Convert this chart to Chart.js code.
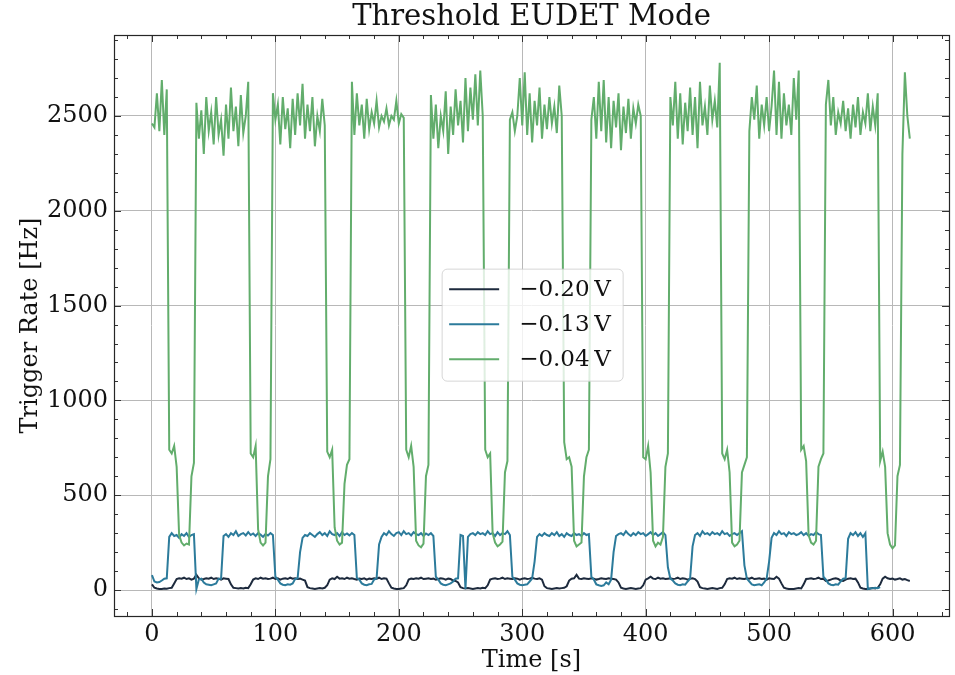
<!DOCTYPE html>
<html><head><meta charset="utf-8">
<script src="https://cdn.jsdelivr.net/npm/chart.js@4.4.1/dist/chart.umd.min.js"></script>
<style>html,body{margin:0;padding:0;background:#fff}canvas{display:block}</style>
</head><body>
<canvas id="c" width="955" height="675"></canvas>
<script>
// Time axis [s], sampled every 2 s
const times = [
0,2,4,6,8,10,12,14,16,18,20,22,24,26,28,30,32,34,36,38,40,42,44,46,48,50,52,54,56,58,
60,62,64,66,68,70,72,74,76,78,80,82,84,86,88,90,92,94,96,98,100,102,104,106,108,110,112,114,116,118,
120,122,124,126,128,130,132,134,136,138,140,142,144,146,148,150,152,154,156,158,160,162,164,166,168,170,172,174,176,178,
180,182,184,186,188,190,192,194,196,198,200,202,204,206,208,210,212,214,216,218,220,222,224,226,228,230,232,234,236,238,
240,242,244,246,248,250,252,254,256,258,260,262,264,266,268,270,272,274,276,278,280,282,284,286,288,290,292,294,296,298,
300,302,304,306,308,310,312,314,316,318,320,322,324,326,328,330,332,334,336,338,340,342,344,346,348,350,352,354,356,358,
360,362,364,366,368,370,372,374,376,378,380,382,384,386,388,390,392,394,396,398,400,402,404,406,408,410,412,414,416,418,
420,422,424,426,428,430,432,434,436,438,440,442,444,446,448,450,452,454,456,458,460,462,464,466,468,470,472,474,476,478,
480,482,484,486,488,490,492,494,496,498,500,502,504,506,508,510,512,514,516,518,520,522,524,526,528,530,532,534,536,538,
540,542,544,546,548,550,552,554,556,558,560,562,564,566,568,570,572,574,576,578,580,582,584,586,588,590,592,594,596,598,
600,602,604,606,608,610,612,614];

// Trigger rate [Hz] at threshold -0.20 V
const rateM020 = [
30,12,8,5,6,8,7,10,12,35,
58,62,60,65,58,62,55,60,80,62,55,58,62,60,65,58,62,60,55,62,60,58,
30,12,10,8,10,8,12,10,30,
55,62,58,65,60,62,58,60,65,58,62,55,60,62,58,65,60,62,58,60,55,50,
15,10,8,6,8,10,8,12,25,
55,62,58,70,60,62,58,65,60,62,58,55,60,58,62,55,60,58,62,60,65,58,62,60,35,
12,8,6,5,8,10,25,
55,60,58,62,60,65,58,60,62,58,60,55,58,62,60,55,60,58,50,48,40,
15,10,8,10,8,6,8,10,8,12,10,25,
55,60,62,58,60,65,58,62,60,58,62,60,55,60,62,58,60,65,60,58,62,55,20,
10,8,6,8,10,8,10,12,20,
50,60,62,80,60,58,62,60,58,62,60,55,58,62,60,58,62,60,58,55,40,
12,8,6,8,10,8,6,8,10,25,
55,62,70,60,58,65,60,62,58,60,62,58,60,65,58,62,60,55,60,62,58,45,
15,10,8,6,8,10,8,6,10,12,30,
58,62,60,65,58,62,60,58,62,60,65,58,60,62,58,60,55,62,60,58,70,60,35,
12,8,6,5,6,8,10,8,30,
58,60,62,58,60,65,58,60,48,50,55,60,62,58,50,48,55,60,62,58,60,40,
12,8,6,5,8,10,8,12,30,
60,70,62,58,60,55,58,62,55,58,52,48];

// Trigger rate [Hz] at threshold -0.13 V
const rateM013 = [
79,45,40,42,50,60,62,
280,300,285,290,275,295,285,300,280,290,295,
5,55,60,40,30,28,25,30,35,60,60,
285,295,280,300,290,310,285,295,300,288,305,290,298,285,300,292,280,295,288,300,290,
70,55,35,28,25,30,28,35,58,62,200,
275,290,285,300,290,280,295,305,290,300,285,310,295,290,300,285,305,290,298,288,300,290,
65,55,35,28,25,30,32,55,62,240,
280,300,290,310,295,285,300,305,290,310,295,300,288,305,295,290,300,285,298,290,300,285,
70,55,35,28,25,30,35,45,60,62,
290,285,5,
280,295,300,290,305,295,300,290,310,295,300,285,305,290,300,295,310,290,
70,55,35,28,25,28,30,45,60,150,
280,295,285,300,290,285,300,290,305,285,295,280,300,290,285,300,290,295,285,300,290,295,
70,55,30,25,22,25,40,30,55,200,
285,295,300,290,310,295,285,300,290,305,295,300,285,295,305,290,300,285,295,305,290,
120,60,50,35,28,25,30,28,45,60,
230,290,300,285,310,295,300,290,305,295,300,290,310,295,300,285,295,300,290,300,310,
130,60,45,30,25,28,30,25,40,60,150,
275,300,290,310,295,300,285,305,295,300,290,295,305,290,300,285,295,290,305,295,290,
70,55,35,28,25,30,28,45,60,62,
270,300,290,305,285,300,280,300,
5,8,10,12,10,15];

// Trigger rate [Hz] at threshold -0.04 V
const rateM004 = [
2460,2440,2620,2420,2690,2400,2640,
740,720,760,650,290,250,235,245,240,600,670,
2570,2380,2530,2300,2600,2420,2520,2350,2600,2400,2480,2290,2560,2380,2650,2420,2550,2340,2610,2410,2500,2680,
720,700,760,320,250,235,250,600,690,
2620,2480,2560,2350,2600,2430,2540,2330,2590,2400,2620,2450,2670,2380,2560,2420,2600,2340,2500,2420,2590,2450,
730,700,740,330,260,240,250,560,660,690,
2680,2400,2620,2450,2560,2380,2590,2430,2520,2460,2580,2440,2500,2470,2540,2450,2500,2480,2580,2460,2510,2490,
740,700,760,650,260,235,225,245,600,660,
2610,2380,2560,2330,2500,2420,2630,2300,2550,2400,2640,2450,2580,2360,2700,2420,2650,2480,2720,2450,2740,2500,
740,700,720,300,250,230,240,255,620,680,
2480,2520,2420,2500,2700,2450,2730,2400,2620,2360,2580,2450,2650,2380,2560,2430,2600,2460,2550,2410,2660,2500,
780,690,700,650,260,230,240,250,600,700,740,
2480,2600,2380,2680,2420,2690,2360,2600,2330,2580,2440,2620,2320,2550,2410,2590,2380,2540,2460,2560,2500,
700,690,760,620,260,230,250,240,280,650,720,
2600,2450,2680,2380,2620,2350,2570,2420,2650,2400,2600,2330,2680,2450,2550,2400,2660,2480,2580,2440,2780,
720,690,740,620,250,230,240,260,620,660,700,
2420,2600,2480,2660,2380,2560,2450,2600,2420,2550,2740,2400,2680,2380,2620,2450,2560,2400,2700,2480,2740,
740,760,680,290,250,240,260,650,690,720,
2560,2690,2450,2600,2400,2520,2460,2580,2420,2540,2380,2560,2440,2600,2400,2520,2460,2620,2420,2550,2450,2620,
680,730,650,300,240,220,235,600,660,
2300,2730,2500,2380];

const xTicks = [0,100,200,300,400,500,600];
const yTicks = [0,500,1000,1500,2000,2500];
const seriesLabels = ['\u22120.20\u2009V','\u22120.13\u2009V','\u22120.04\u2009V'];
const seriesColors = ['#1d2a3d','#2c7b9b','#62ad6c'];

function pts(vals){ return vals.map((v,i)=>({x:times[i], y:v})); }

const SERIF = "'DejaVu Serif', 'Liberation Serif', serif";

const frameTicks = {
  id:'frameTicks',
  afterDatasetsDraw(chart){
    const {ctx, chartArea:a, scales:{x,y}} = chart;
    ctx.save();
    ctx.strokeStyle = '#333333';
    ctx.lineWidth = 1;
    ctx.beginPath();
    const xmin = x.min, xmax = x.max, ymin = y.min, ymax = y.max;
    for (let v = Math.ceil(xmin/20)*20; v <= xmax; v += 20) {
      const p = Math.round(x.getPixelForValue(v)) + 0.5;
      const len = (v % 100 === 0) ? 7 : 4;
      ctx.moveTo(p, a.bottom); ctx.lineTo(p, a.bottom - len);
      ctx.moveTo(p, a.top); ctx.lineTo(p, a.top + len);
    }
    for (let v = Math.ceil(ymin/100)*100; v <= ymax; v += 100) {
      const p = Math.round(y.getPixelForValue(v)) + 0.5;
      const len = (v % 500 === 0) ? 7 : 4;
      ctx.moveTo(a.left, p); ctx.lineTo(a.left + len, p);
      ctx.moveTo(a.right, p); ctx.lineTo(a.right - len, p);
    }
    ctx.stroke();
    ctx.strokeStyle = '#262626';
    ctx.lineWidth = 1.2;
    ctx.strokeRect(Math.round(a.left)+0.5, Math.round(a.top)+0.5, Math.round(a.right-a.left), Math.round(a.bottom-a.top));
    ctx.restore();
  }
};

const boxLegend = {
  id:'boxLegend',
  afterDraw(chart){
    const {ctx, chartArea:a} = chart;
    const bx = a.left + 0.393*(a.right-a.left);
    const by = a.top + 0.403*(a.bottom-a.top);
    const bw = 181, bh = 112, r = 5;
    ctx.save();
    ctx.beginPath();
    ctx.moveTo(bx+r, by);
    ctx.lineTo(bx+bw-r, by); ctx.arcTo(bx+bw, by, bx+bw, by+r, r);
    ctx.lineTo(bx+bw, by+bh-r); ctx.arcTo(bx+bw, by+bh, bx+bw-r, by+bh, r);
    ctx.lineTo(bx+r, by+bh); ctx.arcTo(bx, by+bh, bx, by+bh-r, r);
    ctx.lineTo(bx, by+r); ctx.arcTo(bx, by, bx+r, by, r);
    ctx.closePath();
    ctx.fillStyle = 'rgba(255,255,255,0.8)';
    ctx.fill();
    ctx.strokeStyle = 'rgba(204,204,204,0.8)';
    ctx.lineWidth = 1;
    ctx.stroke();
    ctx.font = "23px " + SERIF;
    ctx.textBaseline = 'middle';
    ctx.textAlign = 'left';
    chart.data.datasets.forEach((ds, i) => {
      const yy = by + 20 + i*35;
      ctx.strokeStyle = ds.borderColor;
      ctx.lineWidth = 2;
      ctx.beginPath();
      ctx.moveTo(bx+7, yy); ctx.lineTo(bx+57, yy);
      ctx.stroke();
      ctx.fillStyle = '#111111';
      ctx.fillText(ds.label, bx+77, yy+1);
    });
    ctx.restore();
  }
};

new Chart(document.getElementById('c'), {
  type: 'line',
  data: {
    datasets: [
      {label: seriesLabels[0], data: pts(rateM020), borderColor: seriesColors[0], order: 2},
      {label: seriesLabels[1], data: pts(rateM013), borderColor: seriesColors[1], order: 1},
      {label: seriesLabels[2], data: pts(rateM004), borderColor: seriesColors[2], order: 0}
    ]
  },
  options: {
    responsive: false,
    animation: false,
    devicePixelRatio: 1,
    layout: {padding: {left: 0, right: 6, top: 0, bottom: 0}},
    elements: {
      point: {radius: 0, hoverRadius: 0},
      line: {borderWidth: 2, tension: 0, fill: false}
    },
    plugins: {
      legend: {display: false},
      tooltip: {enabled: false},
      title: {
        display: true,
        fullSize: false,
        text: 'Threshold EUDET Mode',
        color: '#111111',
        font: {family: SERIF, size: 29, weight: 'normal', lineHeight: 1.0},
        padding: {top: 3, bottom: 3}
      }
    },
    scales: {
      x: {
        type: 'linear',
        min: -30.75, max: 645.75,
        afterBuildTicks(s){ s.ticks = xTicks.map(v => ({value: v})); },
        afterFit(s){ s.height = 59; },
        grid: {color: '#b8b8b8', lineWidth: 1, drawTicks: false},
        border: {display: false},
        ticks: {color: '#111111', font: {family: SERIF, size: 24}, padding: 4, maxRotation: 0,
                callback: v => String(v)},
        title: {display: true, text: 'Time [s]', color: '#111111',
                font: {family: SERIF, size: 24}, padding: {top: 0, bottom: 0}}
      },
      y: {
        type: 'linear',
        min: -137, max: 2927,
        afterBuildTicks(s){ s.ticks = yTicks.map(v => ({value: v})); },
        afterFit(s){ s.width = 114; },
        grid: {color: '#b8b8b8', lineWidth: 1, drawTicks: false},
        border: {display: false},
        ticks: {color: '#111111', font: {family: SERIF, size: 24}, padding: 6,
                callback: v => String(v)},
        title: {display: true, text: 'Trigger Rate [Hz]', color: '#111111',
                font: {family: SERIF, size: 24}, padding: {top: 16, bottom: 0}}
      }
    }
  },
  plugins: [frameTicks, boxLegend]
});
</script>
</body></html>
